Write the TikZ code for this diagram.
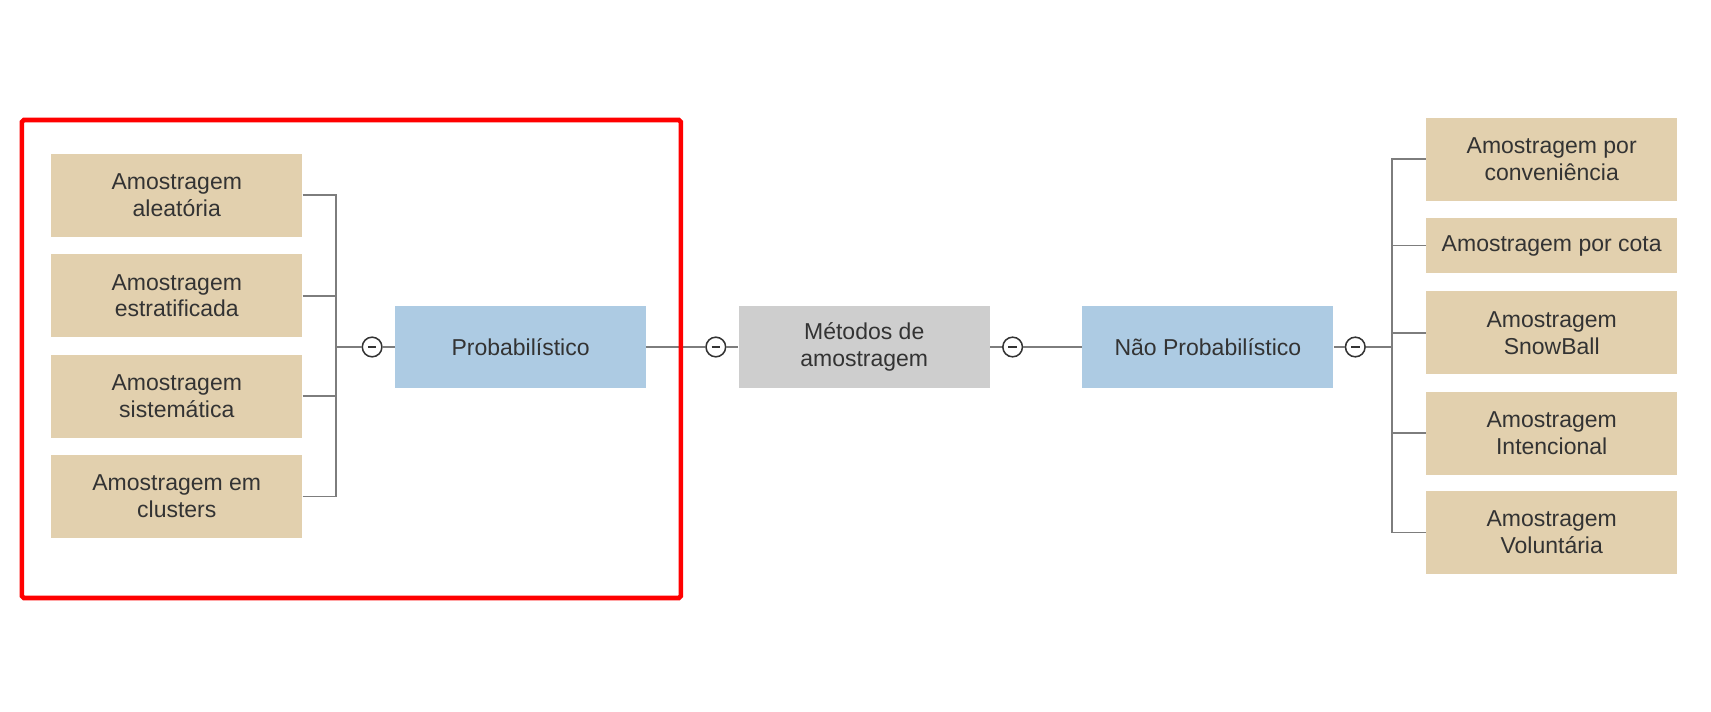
\documentclass[tikz,border=0pt]{standalone}
\usepackage{fontspec}
\setmainfont{Liberation Sans}
\usepackage{tikz}
\usetikzlibrary{positioning}
\definecolor{leafcol}{RGB}{226,208,174}
\definecolor{probblue}{RGB}{173,203,227}
\definecolor{metgray}{RGB}{206,206,206}
\definecolor{linegray}{RGB}{125,125,125}
\definecolor{txtgray}{RGB}{51,51,51}

\begin{document}
\begin{tikzpicture}[x=0.02cm,y=-0.02cm,node distance=6.3cm,
	base node/.style={rectangle,minimum width=4.6cm,minimum height=1.52cm,inner sep=0pt,
		align=center,text=txtgray,font=\fontsize{12}{14}\selectfont},
	leaf node/.style={base node,fill=leafcol},
	class node/.style={base node,fill=probblue},
	toggle/.style={circle,draw=txtgray,line width=0.8pt,minimum size=0.36cm,inner sep=0pt,fill=white,
		path picture={\draw[txtgray,line width=1.3pt] ([xshift=-2.2pt]path picture bounding box.center)
			-- ([xshift=2.2pt]path picture bounding box.center);}},
	link/.style={draw=linegray,line width=1pt}]
	\useasboundingbox (0,0) rectangle (1568,652);
	
	\node[base node,fill=metgray] (met) at (792,318) {Métodos de\\amostragem};
	\node[class node] (prob) [left of=met] {Probabilístico};
	\node[class node] (nao) [right of=met] {Não Probabilístico};
	
	% probabilistico
	\node[leaf node] (a1) at (162,179) {Amostragem\\aleatória};
	\node[leaf node] (a2) at (162,271) {Amostragem\\estratificada};
	\node[leaf node] (a3) at (162,363) {Amostragem\\sistemática};
	\node[leaf node] (a4) at (162,455) {Amostragem em\\clusters};
	
	% nao probabilistico
	\node[leaf node] (b1) at (1422,146) {Amostragem por\\conveniência};
	\node[leaf node,minimum height=1cm] (b2) at (1422,225) {Amostragem por cota};
	\node[leaf node] (b3) at (1422,305) {Amostragem\\SnowBall};
	\node[leaf node] (b4) at (1422,397) {Amostragem\\Intencional};
	\node[leaf node] (b5) at (1422,488) {Amostragem\\Voluntária};
	
	\coordinate (jl) at (308,318);
	\coordinate (jr) at (1276,318);
	\node[toggle] (t1) at (341,318) {};
	\node[toggle] (t2) at (656,318) {};
	\node[toggle] (t3) at (928,318) {};
	\node[toggle] (t4) at (1242,318) {};
	
	\foreach \n in {a1,a2,a3,a4}
		\draw[link] (\n.east) -| (jl);
	\foreach \n in {b1,b2,b3,b4,b5}
		\draw[link] (jr) |- (\n.west);
	\draw[link] (jl) -- (t1) -- (prob);
	\draw[link] (prob) -- (t2) -- (met);
	\draw[link] (met) -- (t3) -- (nao);
	\draw[link] (nao) -- (t4) -- (jr);
	
	\draw[red,line width=2.4pt,rounded corners=1pt] (20,110) rectangle (624,548);
\end{tikzpicture}
\end{document}
